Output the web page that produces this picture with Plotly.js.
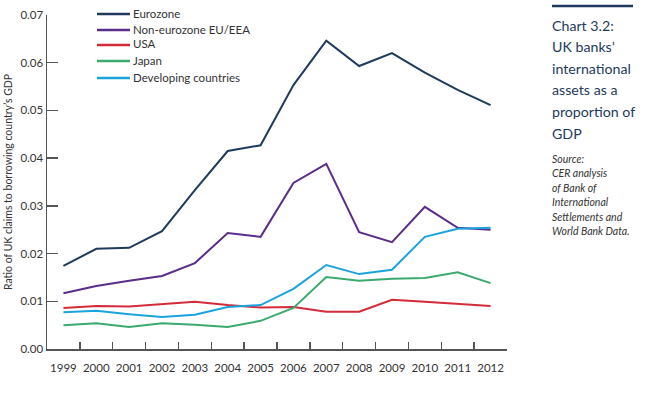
<!DOCTYPE html>
<html>
<head>
<meta charset="utf-8">
<script src="https://cdn.plot.ly/plotly-3.0.1.min.js"></script>
<style>
html,body{margin:0;padding:0;background:#fff;}
#chart{width:660px;height:413px;}
</style>
</head>
<body>
<div id="chart"></div>
<script>
var years = ["1999","2000","2001","2002","2003","2004","2005","2006","2007","2008","2009","2010","2011","2012"];
var eurozone   = [0.0174,0.0210,0.0212,0.0247,0.0333,0.0415,0.0427,0.0553,0.0646,0.0593,0.0620,0.0579,0.0543,0.0511];
var nonEuro    = [0.0117,0.0132,0.0143,0.0153,0.0180,0.0243,0.0235,0.0348,0.0388,0.0245,0.0224,0.0298,0.0254,0.0250];
var usa        = [0.0086,0.0090,0.0089,0.0094,0.0099,0.0092,0.0087,0.0088,0.0078,0.0078,0.0103,0.0099,0.0094,0.0090];
var japan      = [0.0050,0.0054,0.0046,0.0054,0.0051,0.0046,0.0059,0.0086,0.0151,0.0143,0.0147,0.0149,0.0161,0.0138];
var developing = [0.0077,0.0080,0.0073,0.0067,0.0072,0.0088,0.0092,0.0126,0.0176,0.0157,0.0166,0.0235,0.0252,0.0254];
var seriesNames = ["Eurozone","Non-eurozone EU/EEA","USA","Japan","Developing countries"];
var yTickVals = [0,0.01,0.02,0.03,0.04,0.05,0.06,0.07];
var yTickText = ["0.00","0.01","0.02","0.03","0.04","0.05","0.06","0.07"];
var titleLines = ["Chart 3.2:","UK banks’","international","assets as a","proportion of","GDP"];
var sourceLines = ["Source:","CER analysis","of Bank of","International","Settlements and","World Bank Data."];

var colors = ["#1e3a5c","#5a2d8a","#d42b3a","#3aaa6e","#1aa3dc"];
var data = [eurozone, nonEuro, usa, japan, developing];
var traces = data.map(function(d,i){
  return {x: years, y: d, type:'scatter', mode:'lines', name: seriesNames[i],
          line:{color:colors[i], width:2}, hoverinfo:'skip', showlegend:false};
});

// pixel helpers for the plot area (l=47, r=153, t=15, b=64)
function px(x){ return (x-47)/460; }
function py(y){ return (349-y)/334; }

var font = "Lato, 'Open Sans', sans-serif";
var shapes = [{type:'line', xref:'paper', yref:'paper', x0:px(552), x1:px(633),
           y0:py(6), y1:py(6), line:{color:'#1e3a5c', width:2.5}}];
var annotations = [];
var legendRows = [14,30,45,61,78];
seriesNames.forEach(function(n,i){
  shapes.push({type:'line', xref:'paper', yref:'paper', x0:px(97), x1:px(130),
               y0:py(legendRows[i]), y1:py(legendRows[i]), line:{color:colors[i], width:2.5}});
  annotations.push({xref:'paper', yref:'paper', x:px(131), y:py(legendRows[i]-1), xanchor:'left', yanchor:'middle',
                    showarrow:false, text:n, font:{family:font, size:11.5, color:'#333'}});
});
titleLines.forEach(function(t,i){
  annotations.push({xref:'paper', yref:'paper', x:px(550), y:py(25+21.6*i), xanchor:'left', yanchor:'middle',
                    showarrow:false, text:t, font:{family:font, size:14.2, color:'#1e3a5c'}});
});
sourceLines.forEach(function(t,i){
  annotations.push({xref:'paper', yref:'paper', x:px(550), y:py(159+14.4*i), xanchor:'left', yanchor:'middle',
                    showarrow:false, text:'<i>'+t+'</i>', font:{family:font, size:10.5, color:'#333'}});
});

var layout = {
  width:660, height:413,
  margin:{l:47, r:153, t:15, b:64},
  paper_bgcolor:'#fff', plot_bgcolor:'#fff',
  font:{family:font, size:11, color:'#333'},
  showlegend:false,
  xaxis:{type:'category', range:[-0.5,13.5], tickson:'boundaries', ticks:'inside', ticklen:7,
         tickcolor:'#555', tickwidth:1.5, showline:true, linecolor:'#555', linewidth:1.5,
         showgrid:false, zeroline:false, fixedrange:true, tickangle:0,
         tickfont:{family:font, size:11.5, color:'#333'}, ticklabelstandoff:8},
  yaxis:{range:[0,0.07], tickvals:yTickVals, ticktext:yTickText, ticks:'inside', ticklen:11,
         tickcolor:'#555', tickwidth:1.5, showline:true, linecolor:'#555', linewidth:1.5,
         showgrid:false, zeroline:false, fixedrange:true,
         tickfont:{family:font, size:11.5, color:'#333'},
         title:{text:"Ratio of UK claims to borrowing country’s GDP", standoff:6,
                font:{family:font, size:10.5, color:'#333'}}},
  shapes:shapes,
  annotations:annotations
};
Plotly.newPlot('chart', traces, layout, {displayModeBar:false, staticPlot:true});
</script>
</body>
</html>
